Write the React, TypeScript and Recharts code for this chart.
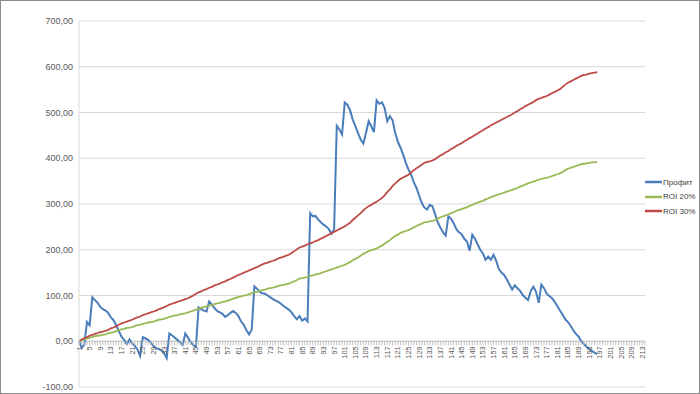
import { LineChart, Line, XAxis, YAxis, CartesianGrid, ReferenceLine, Legend } from "recharts";

// values, one per trade (1..196)
const profit = [
  0, -14, -8, 42, 35, 96, 90, 84, 75, 70,
  67, 62, 52, 46, 35, 22, 10, 3, -6, 4,
  -5, -10, -18, -32, 9, 6, 3, -3, -10, -15,
  -17, -20, -26, -37, 17, 13, 8, 3, -2, -8,
  17, 8, -2, -8, -12, 74, 70, 67, 65, 87,
  80, 72, 66, 63, 60, 53, 57, 62, 66, 62,
  55, 43, 36, 24, 15, 26, 120, 115, 108, 105,
  104, 100, 96, 92, 89, 86, 82, 77, 73, 69,
  63, 55, 48, 55, 45, 50, 43, 280, 273, 274,
  266, 260, 255, 251, 245, 235, 244, 471, 463, 452,
  522, 517, 505, 485, 470, 455, 441, 432, 455, 481,
  470, 457, 527, 519, 522, 510, 481, 492, 483, 455,
  436, 423, 408, 390, 375, 364, 348, 335, 318, 302,
  292, 288, 298, 295, 278, 260, 248, 238, 231, 273,
  268, 258, 245, 238, 234, 224, 218, 198, 233, 224,
  212, 200, 192, 178, 185, 178, 189, 176, 158, 150,
  145, 135, 124, 113, 122, 116, 110, 101, 95, 90,
  110, 119, 108, 84, 124, 116, 104, 99, 94, 86,
  77, 67, 58, 48, 42, 34, 24, 16, 10, 0,
  -6, -12, -17, -21, -25, -28,
];

const roi20 = [
  0, 3, 5, 6, 8, 9, 11, 12, 13, 14,
  15, 17, 19, 20, 22, 24, 26, 27, 29, 30,
  31, 33, 35, 36, 38, 39, 41, 42, 43, 45,
  47, 48, 49, 51, 53, 55, 56, 57, 59, 60,
  61, 63, 65, 67, 69, 71, 73, 75, 76, 78,
  79, 81, 83, 84, 86, 87, 89, 91, 93, 95,
  97, 98, 100, 101, 103, 105, 107, 108, 110, 112,
  113, 115, 116, 117, 119, 121, 122, 123, 125, 126,
  129, 131, 134, 137, 138, 139, 141, 143, 144, 146,
  147, 149, 151, 153, 155, 157, 159, 161, 163, 165,
  167, 170, 173, 177, 180, 183, 187, 191, 194, 197,
  199, 201, 203, 206, 209, 213, 217, 221, 226, 230,
  233, 237, 239, 241, 243, 246, 249, 252, 255, 257,
  260, 261, 262, 263, 265, 268, 271, 273, 275, 277,
  280, 282, 285, 287, 289, 291, 293, 296, 298, 301,
  303, 305, 307, 310, 312, 315, 317, 319, 321, 323,
  325, 327, 329, 331, 333, 335, 338, 340, 343, 345,
  347, 349, 351, 353, 355, 356, 357, 359, 361, 363,
  365, 367, 370, 374, 377, 379, 381, 383, 385, 387,
  388, 389, 390, 391, 391, 392,
];

const roi30 = [
  0, 4, 7, 9, 12, 14, 16, 18, 20, 21,
  23, 25, 28, 30, 33, 36, 39, 41, 43, 45,
  47, 50, 52, 54, 57, 59, 61, 63, 65, 67,
  70, 72, 74, 77, 80, 82, 84, 86, 88, 90,
  92, 94, 97, 100, 104, 107, 109, 112, 114, 117,
  119, 122, 124, 126, 129, 131, 134, 136, 139, 142,
  145, 147, 150, 152, 155, 157, 160, 162, 165, 168,
  170, 172, 174, 176, 178, 181, 183, 185, 187, 189,
  193, 197, 201, 205, 207, 209, 212, 214, 216, 219,
  221, 224, 227, 230, 233, 236, 239, 242, 245, 248,
  251, 255, 259, 265, 270, 275, 280, 286, 291, 295,
  298, 302, 305, 309, 313, 319, 326, 332, 339, 345,
  350, 355, 358, 361, 364, 369, 374, 378, 382, 386,
  390, 392, 393, 395, 398, 402, 406, 409, 413, 416,
  420, 423, 427, 430, 433, 437, 440, 444, 447, 451,
  454, 458, 461, 465, 468, 472, 475, 478, 481, 484,
  487, 490, 493, 496, 500, 503, 507, 510, 514, 517,
  520, 523, 527, 530, 532, 534, 536, 539, 542, 545,
  548, 551, 556, 561, 565, 568, 571, 574, 577, 580,
  582, 583, 585, 586, 587, 588,
];

const categories = profit.map((_, i) => i + 1);
const xAxisEnd = 214; // category axis runs past the data
const xTicks = Array.from({ length: xAxisEnd }, (_, i) => i + 1);
const yTicks = [-100, 0, 100, 200, 300, 400, 500, 600, 700];

const series = [
  { key: "profit", name: "Профит", color: "#4A7EBB" },
  { key: "roi20", name: "ROI 20%", color: "#98B954" },
  { key: "roi30", name: "ROI 30%", color: "#BE4B48" },
];

const data = categories.map((n, i) => ({
  n,
  profit: profit[i],
  roi20: roi20[i],
  roi30: roi30[i],
}));

const W = 700;
const H = 394;
const TOP = 21;
const BOTTOM = 6;
const X_AXIS_H = 1;
const Y_MIN = -100;
const Y_MAX = 700;
const plotH = H - TOP - BOTTOM - X_AXIS_H;
const zeroY = TOP + (plotH * Y_MAX) / (Y_MAX - Y_MIN);
const FONT = "'Liberation Sans', Arial, sans-serif";

const fmt = (v: number) => v.toFixed(2).replace(".", ",");

// x axis sits on the zero line, like Excel does
const renderCategoryTick = (props: any) => {
  const { x, payload, index } = props;
  const v = payload.value;
  const showLabel = (v - 1) % 4 === 0;
  return (
    <g key={`t-${index}`}>
      <line x1={x} x2={x} y1={zeroY} y2={zeroY + 4} stroke="#bfbfbf" strokeWidth={1} />
      {showLabel && (
        <text
          x={x}
          y={zeroY + 5}
          transform={`rotate(-90, ${x}, ${zeroY + 5})`}
          textAnchor="end"
          dominantBaseline="central"
          fontSize={7.5}
          fontFamily={FONT}
          fill="#595959"
        >
          {v}
        </text>
      )}
    </g>
  );
};

const LegendBox = () => (
  <div style={{ fontFamily: FONT, fontSize: 8, color: "#404040" }}>
    {series.map((s) => (
      <div key={s.key} style={{ display: "flex", alignItems: "center", height: 14.5 }}>
        <svg width={18} height={4} style={{ display: "block" }}>
          <line x1={0} x2={17} y1={2} y2={2} stroke={s.color} strokeWidth={2.5} />
        </svg>
        <span style={{ whiteSpace: "nowrap" }}>{s.name}</span>
      </div>
    ))}
  </div>
);

export default function App() {
  return (
    <div style={{ position: "absolute", left: 0, top: 0, width: W, height: H, background: "#fff" }}>
      <LineChart width={W} height={H} data={data} margin={{ top: TOP, right: 55, bottom: BOTTOM, left: 0 }}>
        <CartesianGrid vertical={false} stroke="#d9d9d9" />
        <XAxis
          dataKey="n"
          type="number"
          domain={[1, xAxisEnd]}
          ticks={xTicks}
          interval={0}
          height={X_AXIS_H}
          axisLine={false}
          tickLine={false}
          tick={renderCategoryTick}
        />
        <YAxis
          width={79}
          domain={[Y_MIN, Y_MAX]}
          ticks={yTicks}
          interval={0}
          tickFormatter={fmt}
          axisLine={{ stroke: "#d9d9d9" }}
          tickLine={false}
          tickSize={4}
          tickMargin={2}
          tick={{ fontSize: 9, fontFamily: FONT, fill: "#595959" }}
        />
        <ReferenceLine y={0} stroke="#c8c8c8" />
        <Legend
          layout="vertical"
          align="center"
          verticalAlign="middle"
          wrapperStyle={{ left: 645, top: 175, width: 55 }}
          content={() => <LegendBox />}
        />
        {series.map((s) => (
          <Line
            key={s.key}
            type="linear"
            dataKey={s.key}
            name={s.name}
            stroke={s.color}
            strokeWidth={s.key === "profit" ? 2 : 1.8}
            dot={false}
            activeDot={false}
            isAnimationActive={false}
          />
        ))}
      </LineChart>
      <div
        style={{
          position: "absolute",
          inset: 0,
          border: "1px solid #8c8c8c",
          pointerEvents: "none",
        }}
      />
    </div>
  );
}
